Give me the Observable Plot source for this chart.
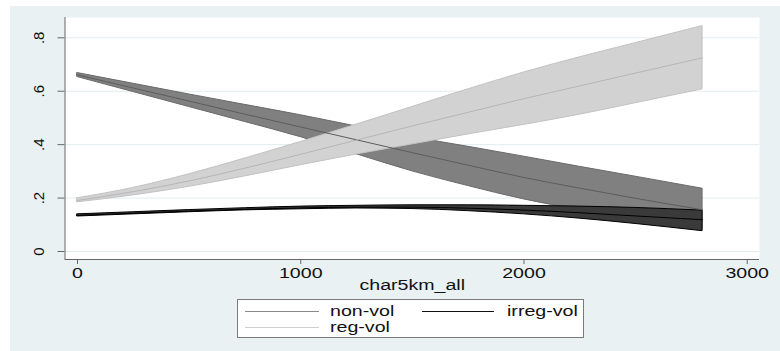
<!DOCTYPE html>
<html>
<head>
<meta charset="utf-8">
<script src="https://cdn.jsdelivr.net/npm/d3@7"></script>
<script src="https://cdn.jsdelivr.net/npm/@observablehq/plot@0.6"></script>
<style>
  html, body { margin: 0; padding: 0; background: #ffffff; }
  #wrap { position: relative; width: 780px; height: 351px; overflow: hidden; }
  #bg { position: absolute; left: 10px; top: 6px; right: 0; bottom: 0; background: #e9f1f3; }
  #chart { position: absolute; left: 0; top: 0; }
  #legend { position: absolute; left: 237px; top: 299px; width: 347px; height: 39px;
            background: #ffffff; border: 1px solid #7a7a7a; box-sizing: border-box;
            font-family: "Liberation Sans", Arial, sans-serif; font-size: 14px; color: #111; }
  .key { position: absolute; height: 0; }
  .lab { position: absolute; transform: scaleX(1.4); transform-origin: left center; line-height: 14px; white-space: nowrap; }
</style>
</head>
<body>
<div id="wrap">
  <div id="bg"></div>
  <div id="chart"></div>
  <div id="legend"></div>
</div>
<script>
// ---- data ----
const xValues = [0, 250, 500, 750, 1000, 1250, 1500, 1750, 2000, 2250, 2500, 2800];

const nonVolMean = [0.661, 0.612, 0.563, 0.514, 0.466, 0.418, 0.370, 0.323, 0.277, 0.237, 0.199, 0.156];
const nonVolLo   = [0.653, 0.597, 0.541, 0.485, 0.428, 0.364, 0.300, 0.245, 0.195, 0.155, 0.120, 0.080];
const nonVolHi   = [0.668, 0.628, 0.588, 0.549, 0.510, 0.468, 0.428, 0.392, 0.355, 0.317, 0.280, 0.235];

const irregMean  = [0.135, 0.143, 0.151, 0.158, 0.163, 0.166, 0.166, 0.162, 0.155, 0.145, 0.133, 0.119];
const irregLo    = [0.131, 0.139, 0.147, 0.154, 0.158, 0.161, 0.159, 0.151, 0.139, 0.123, 0.103, 0.076];
const irregHi    = [0.139, 0.147, 0.155, 0.162, 0.168, 0.171, 0.173, 0.173, 0.171, 0.168, 0.163, 0.153];

const regMean    = [0.191, 0.224, 0.264, 0.312, 0.364, 0.417, 0.470, 0.521, 0.572, 0.620, 0.668, 0.725];
const regLo      = [0.184, 0.210, 0.242, 0.281, 0.323, 0.363, 0.401, 0.438, 0.474, 0.512, 0.555, 0.607];
const regHi      = [0.199, 0.238, 0.289, 0.348, 0.410, 0.475, 0.541, 0.607, 0.670, 0.727, 0.780, 0.844];

const seriesNames = ["non-vol", "irreg-vol", "reg-vol"];
const yTicks = [0, 0.2, 0.4, 0.6, 0.8];
const yTickLabels = ["0", ".2", ".4", ".6", ".8"];
const xTicks = [0, 1000, 2000, 3000];
const xTitle = "char5km_all";

const xDomain = [-56, 3055];
const yDomain = [-0.03, 0.876];

// ---- build tables ----
function rows(name, mean, lo, hi) {
  return xValues.map((x, i) => ({series: name, x, mean: mean[i], lo: lo[i], hi: hi[i]}));
}
const nonVol = rows(seriesNames[0], nonVolMean, nonVolLo, nonVolHi);
const irreg  = rows(seriesNames[1], irregMean, irregLo, irregHi);
const reg    = rows(seriesNames[2], regMean, regLo, regHi);

const style = {
  "non-vol":   {fill: "#808080", edge: "#6a6a6a", line: "#5c5c5c", key: "#8a8a8a"},
  "irreg-vol": {fill: "#3a3a3a", edge: "#000000", line: "#000000", key: "#111111"},
  "reg-vol":   {fill: "#d2d2d2", edge: "#c2c2c2", line: "#b6b6b6", key: "#cfcfcf"}
};

function band(data) {
  const s = style[data[0].series];
  return Plot.areaY(data, {x: "x", y1: "lo", y2: "hi", fill: s.fill, stroke: s.edge, strokeWidth: 1, curve: "monotone-x"});
}
function meanLine(data) {
  const s = style[data[0].series];
  return Plot.lineY(data, {x: "x", y: "mean", stroke: s.line, strokeWidth: 1, curve: "monotone-x"});
}

const chart = Plot.plot({
  width: 780,
  height: 351,
  marginLeft: 64.5,
  marginRight: 21,
  marginTop: 17,
  marginBottom: 92,
  style: {background: "transparent", fontFamily: "'Liberation Sans', Arial, sans-serif", fontSize: "14px", color: "#111"},
  x: {domain: xDomain},
  y: {domain: yDomain},
  marks: [
    Plot.frame({fill: "#ffffff", stroke: "none"}),
    Plot.gridY(yTicks, {stroke: "#e3ecef", strokeOpacity: 1}),
    band(nonVol),
    band(irreg),
    band(reg),
    meanLine(nonVol),
    meanLine(irreg),
    meanLine(reg),
    Plot.ruleX([xDomain[0]], {stroke: "#666", strokeWidth: 1}),
    Plot.ruleY([yDomain[0]], {stroke: "#666", strokeWidth: 1}),
    Plot.axisY(yTicks, {anchor: "left", tickSize: 7, tickPadding: 14.5, tickRotate: -90, fontSize: 15,
      tickFormat: (d) => yTickLabels[yTicks.indexOf(d)], stroke: "#666", label: null}),
    Plot.axisX(xTicks, {anchor: "bottom", tickSize: 5, tickPadding: 4, stroke: "#666", fontSize: 14,
      tickFormat: (d) => String(d), label: xTitle, labelAnchor: "center", labelOffset: 30, labelArrow: "none"})
  ]
});
document.getElementById("chart").appendChild(chart);

// remove any arrow from the axis label and widen x-axis text (as in the reference)
chart.querySelectorAll('g[aria-label="x-axis label"] text').forEach((t) => {
  t.textContent = t.textContent.replace(/\s*[\u2190-\u2193]\s*/g, "").trim();
});
chart.querySelectorAll('g[aria-label="x-axis tick label"] text, g[aria-label="x-axis label"] text').forEach((t) => {
  const tr = t.getAttribute("transform") || "";
  t.setAttribute("transform", tr + " scale(1.4,1)");
});

// ---- legend ----
const legend = document.getElementById("legend");
const legendItems = [
  {name: seriesNames[0], col: 0, row: 0},
  {name: seriesNames[1], col: 1, row: 0},
  {name: seriesNames[2], col: 0, row: 1}
];
legendItems.forEach((it) => {
  const k = document.createElement("div");
  k.className = "key";
  k.style.left = (7 + it.col * 177) + "px";
  k.style.top = (11 + it.row * 16) + "px";
  k.style.width = (it.col ? 72 : 74) + "px";
  k.style.borderTop = (it.name === "irreg-vol" ? "1.5px" : "1px") + " solid " + style[it.name].key;
  legend.appendChild(k);
  const l = document.createElement("div");
  l.className = "lab";
  l.textContent = it.name;
  l.style.left = (92 + it.col * 177) + "px";
  l.style.top = (4 + it.row * 16) + "px";
  legend.appendChild(l);
});
</script>
</body>
</html>
